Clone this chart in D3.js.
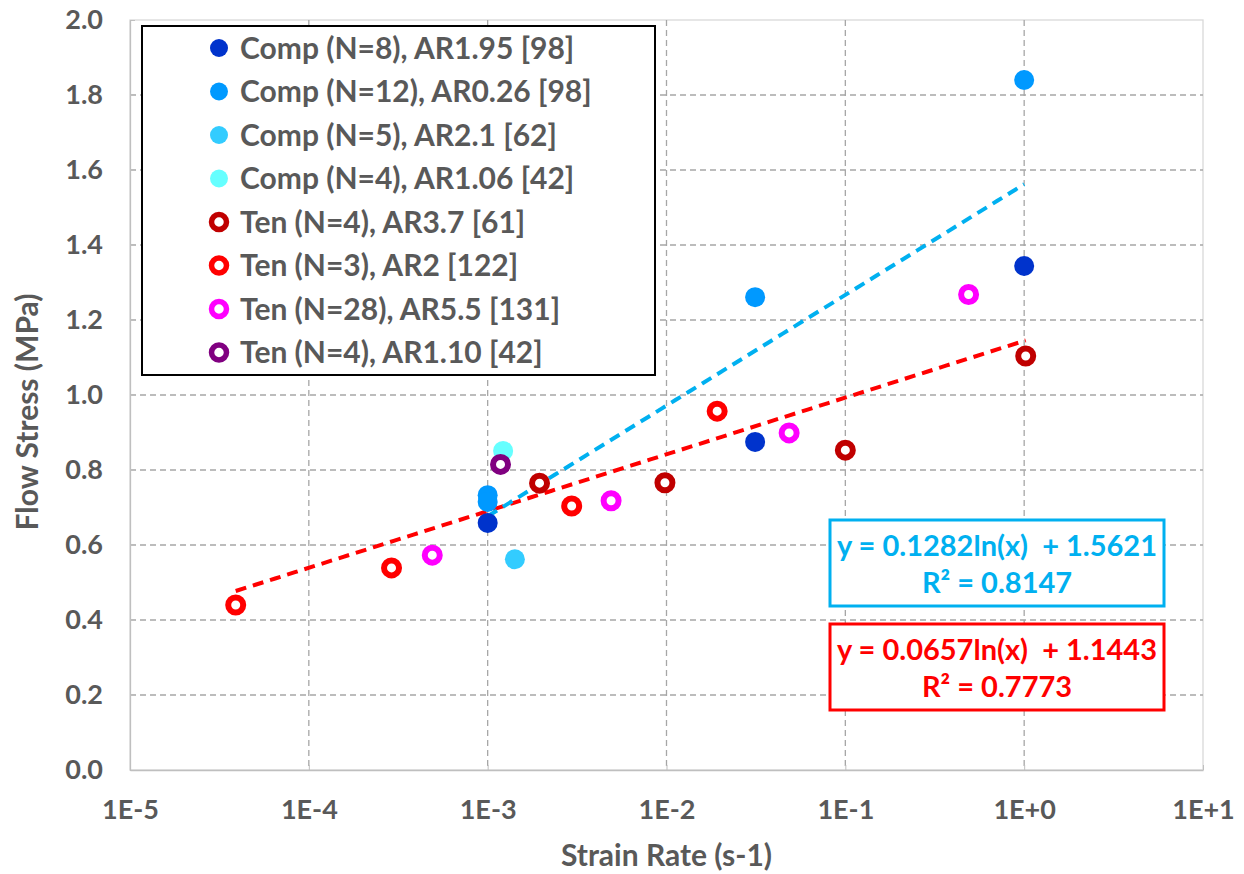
<!DOCTYPE html>
<html>
<head>
<meta charset="utf-8">
<script src="https://cdn.jsdelivr.net/npm/d3@7"></script>
<style>
  body { margin: 0; background: #fff; }
  svg { display: block; }
  .lab { font-family: Lato, "Open Sans", sans-serif; font-weight: bold; fill: #595959; }
</style>
</head>
<body>
<div id="chart"></div>
<script>
// ---- data ----
const seriesNames = [
  "Comp (N=8), AR1.95 [98]",
  "Comp (N=12), AR0.26 [98]",
  "Comp (N=5), AR2.1 [62]",
  "Comp (N=4), AR1.06 [42]",
  "Ten (N=4), AR3.7 [61]",
  "Ten (N=3), AR2 [122]",
  "Ten (N=28), AR5.5 [131]",
  "Ten (N=4), AR1.10 [42]"
];
const seriesColors = ["#0033cc", "#0099ff", "#33ccff", "#66ffff", "#c00000", "#ff0000", "#ff00ff", "#800080"];
const seriesOpen = [false, false, false, false, true, true, true, true];

const compN8 = [[1.0e-3, 0.659], [0.0313, 0.875], [1.0, 1.344]];
const compN12 = [[1.0e-3, 0.733], [1.0e-3, 0.715], [0.0313, 1.261], [1.0, 1.840]];
const compN5 = [[1.42e-3, 0.562]];
const compN4 = [[1.22e-3, 0.851]];
const tenN4a = [[1.95e-3, 0.765], [0.0098, 0.766], [0.1, 0.853], [1.02, 1.104]];
const tenN3 = [[3.9e-5, 0.440], [2.9e-4, 0.539], [2.95e-3, 0.704], [0.0192, 0.957]];
const tenN28 = [[4.9e-4, 0.573], [4.9e-3, 0.718], [0.0485, 0.899], [0.489, 1.268]];
const tenN4b = [[1.18e-3, 0.815]];
const seriesData = [compN8, compN12, compN5, compN4, tenN4a, tenN3, tenN28, tenN4b];

// logarithmic trend lines y = a ln(x) + b
const compTrend = { a: 0.1282, b: 1.5621, r2: 0.8147, color: "#00b0f0" };
const tenTrend = { a: 0.0657, b: 1.1443, r2: 0.7773, color: "#ff0000" };

const xTicks = [1e-5, 1e-4, 1e-3, 1e-2, 1e-1, 1, 10];
const yTicks = [0, 0.2, 0.4, 0.6, 0.8, 1.0, 1.2, 1.4, 1.6, 1.8, 2.0];

// ---- layout ----
const W = 1244, H = 874;
const plot = { left: 130, right: 1203, top: 20, bottom: 770 };

const svg = d3.select("#chart").append("svg")
  .attr("width", W).attr("height", H);

const x = d3.scaleLog().domain([1e-5, 10]).range([plot.left, plot.right]);
const y = d3.scaleLinear().domain([0, 2]).range([plot.bottom, plot.top]);

// plot area border
svg.append("rect")
  .attr("x", plot.left).attr("y", plot.top)
  .attr("width", plot.right - plot.left).attr("height", plot.bottom - plot.top)
  .attr("fill", "none").attr("stroke", "#d9d9d9").attr("stroke-width", 1.3);

// gridlines
const grid = svg.append("g").attr("stroke", "#a6a6a6").attr("stroke-width", 1.3)
  .attr("stroke-dasharray", "6,4");
grid.selectAll(".hg").data(yTicks.filter(d => d > 0 && d < 2)).enter().append("line")
  .attr("x1", plot.left).attr("x2", plot.right)
  .attr("y1", d => y(d)).attr("y2", d => y(d));
grid.selectAll(".vg").data(xTicks.slice(1, -1)).enter().append("line")
  .attr("x1", d => x(d)).attr("x2", d => x(d))
  .attr("y1", plot.top).attr("y2", plot.bottom);

// axes
const xAxis = svg.append("g")
  .attr("transform", `translate(0,${plot.bottom})`)
  .call(d3.axisBottom(x).tickValues(xTicks).tickSizeInner(-5).tickSizeOuter(0).tickPadding(30)
    .tickFormat(d => { const e = Math.round(Math.log10(d)); return "1E" + (e >= 0 ? "+" : "") + e; }));
xAxis.select(".domain").attr("stroke", "#bfbfbf").attr("stroke-width", 1.3);
xAxis.selectAll(".tick line").attr("stroke", "#bfbfbf");
xAxis.selectAll("text").attr("class", "lab").style("font-size", "27px").attr("fill", "#595959");

const yAxis = svg.append("g")
  .attr("transform", `translate(${plot.left},0)`)
  .call(d3.axisLeft(y).tickValues(yTicks).tickSizeInner(-5).tickSizeOuter(0).tickPadding(27)
    .tickFormat(d3.format(".1f")));
yAxis.select(".domain").attr("stroke", "#bfbfbf").attr("stroke-width", 1.3);
yAxis.selectAll(".tick line").attr("stroke", "#bfbfbf");
yAxis.selectAll("text").attr("class", "lab").style("font-size", "27px").attr("fill", "#595959");

// axis titles
svg.append("text").attr("class", "lab")
  .attr("x", (plot.left + plot.right) / 2).attr("y", 866)
  .attr("text-anchor", "middle").style("font-size", "30px")
  .text("Strain Rate (s-1)");
svg.append("text").attr("class", "lab")
  .attr("transform", `translate(38,${412}) rotate(-90)`)
  .attr("text-anchor", "middle").style("font-size", "30px")
  .text("Flow Stress (MPa)");

// trend lines
function trendLine(tr, pts) {
  const ext = d3.extent(pts, d => d[0]);
  const xs = d3.range(0, 41).map(i => ext[0] * Math.pow(ext[1] / ext[0], i / 40));
  svg.append("path")
    .datum(xs)
    .attr("fill", "none").attr("stroke", tr.color).attr("stroke-width", 4)
    .attr("stroke-dasharray", "11,7")
    .attr("d", d3.line().x(d => x(d)).y(d => y(tr.a * Math.log(d) + tr.b)));
}
trendLine(tenTrend, [].concat(tenN4a, tenN3, tenN28, tenN4b));
trendLine(compTrend, [].concat(compN8, compN12, compN5, compN4));

// markers
function drawMarker(g, color, open) {
  if (open) {
    g.append("circle").attr("r", 7.5).attr("fill", "#fff")
      .attr("stroke", color).attr("stroke-width", 6);
  } else {
    g.append("circle").attr("r", 10).attr("fill", color);
  }
}
seriesData.forEach((pts, i) => {
  pts.forEach(p => {
    const g = svg.append("g").attr("transform", `translate(${x(p[0])},${y(p[1])})`);
    drawMarker(g, seriesColors[i], seriesOpen[i]);
  });
});

// legend
const leg = svg.append("g");
leg.append("rect").attr("x", 142).attr("y", 26).attr("width", 513).attr("height", 349)
  .attr("fill", "#fff").attr("stroke", "#000").attr("stroke-width", 2);
seriesNames.forEach((name, i) => {
  const cy = 48 + i * 43.5;
  const g = leg.append("g").attr("transform", `translate(219,${cy})`);
  if (seriesOpen[i]) {
    g.append("circle").attr("r", 7.5).attr("fill", "#fff")
      .attr("stroke", seriesColors[i]).attr("stroke-width", 5.5);
  } else {
    g.append("circle").attr("r", 9).attr("fill", seriesColors[i]);
  }
  leg.append("text").attr("class", "lab")
    .attr("x", 240).attr("y", cy).attr("dy", "0.36em")
    .style("font-size", "30px").text(name);
});

// equation boxes
function eqBox(tr, top) {
  const g = svg.append("g");
  g.append("rect").attr("x", 830).attr("y", top).attr("width", 334).attr("height", 86)
    .attr("fill", "#fff").attr("stroke", tr.color).attr("stroke-width", 3);
  const sign = tr.b >= 0 ? "+" : "-";
  g.append("text").attr("x", 997).attr("y", top + 26).attr("dy", "0.36em")
    .attr("text-anchor", "middle").style("font-family", "Lato, sans-serif")
    .style("font-weight", "bold").style("font-size", "29px").attr("fill", tr.color)
    .attr("xml:space", "preserve")
    .text(`y = ${tr.a.toFixed(4)}ln(x)  ${sign} ${Math.abs(tr.b).toFixed(4)}`);
  g.append("text").attr("x", 997).attr("y", top + 63).attr("dy", "0.36em")
    .attr("text-anchor", "middle").style("font-family", "Lato, sans-serif")
    .style("font-weight", "bold").style("font-size", "29px").attr("fill", tr.color)
    .text(`R² = ${tr.r2.toFixed(4)}`);
}
eqBox(compTrend, 520);
eqBox(tenTrend, 624);
</script>
</body>
</html>
